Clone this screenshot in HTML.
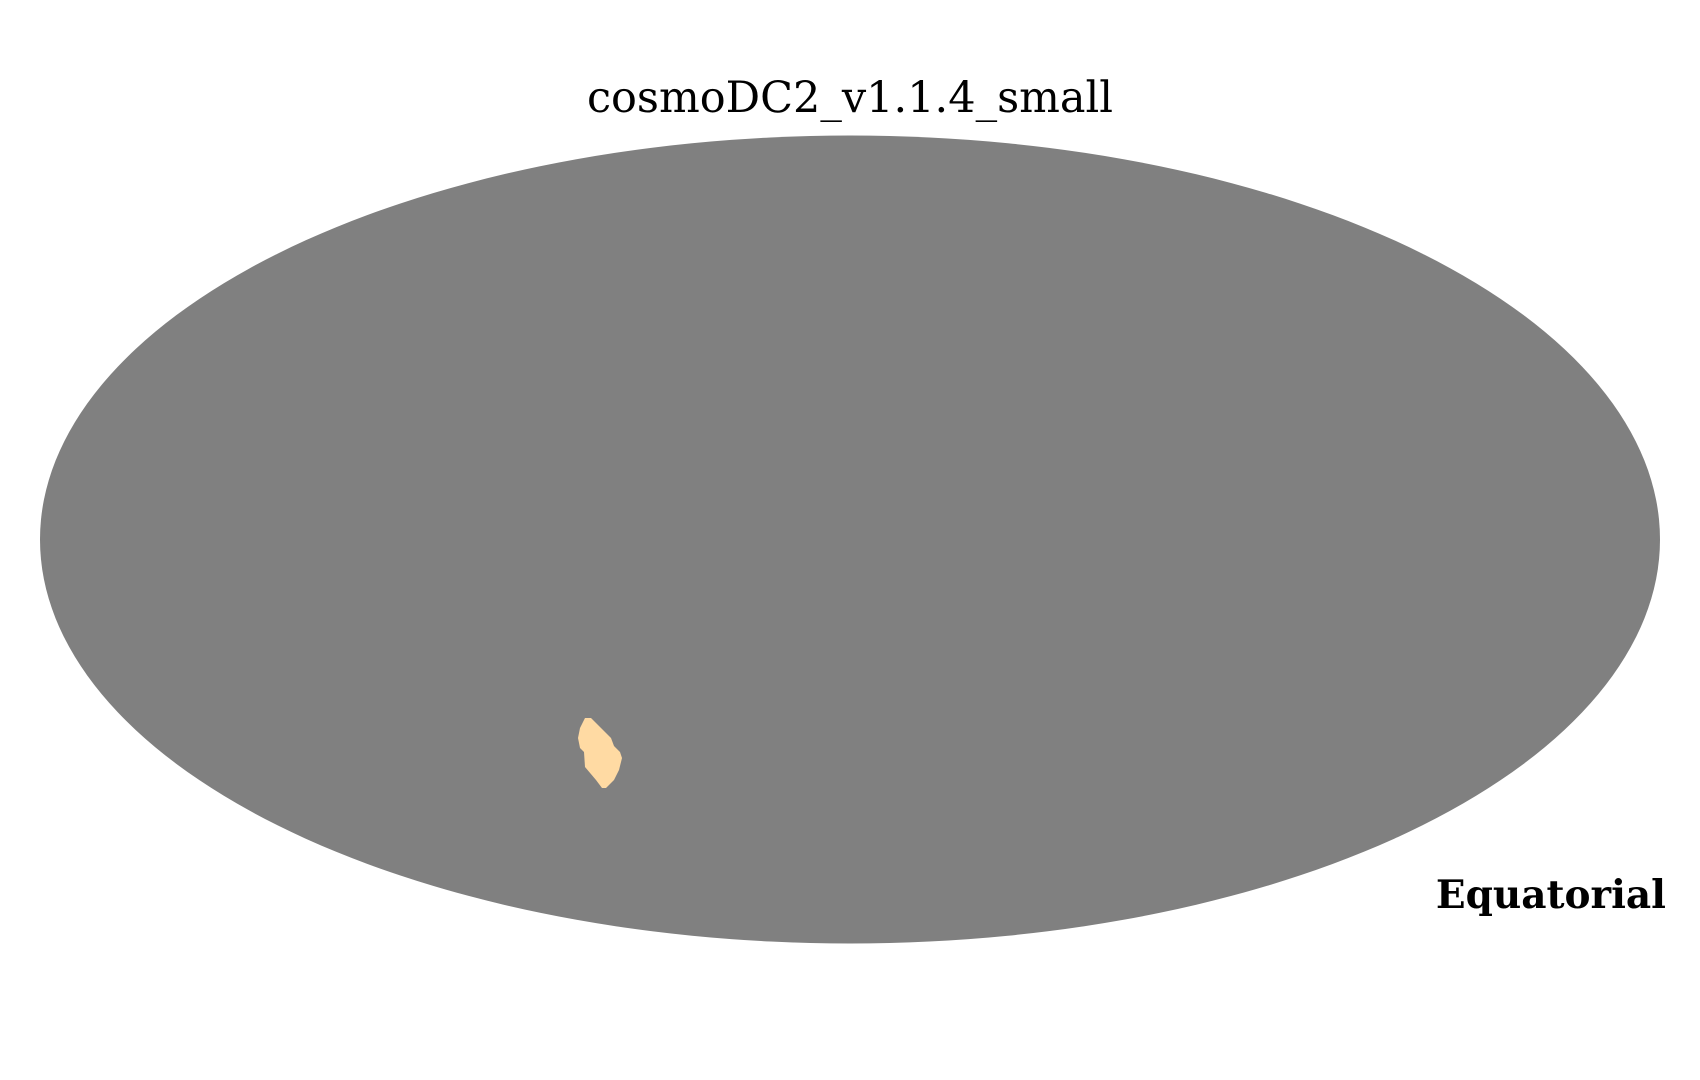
<!DOCTYPE html>
<html><head><meta charset="utf-8"><style>
body{margin:0;width:1700px;height:1080px;background:#fff;overflow:hidden}
svg{display:block}
</style></head><body>
<svg width="1700" height="1080">
<text x="850" y="112" text-anchor="middle" font-family="'DejaVu Serif','Liberation Serif',serif" font-size="43" fill="#000">cosmoDC2_v1.1.4_small</text>
<ellipse cx="850" cy="539.5" rx="810" ry="404" fill="#808080"/>
<polygon id="patch" fill="#ffdaa3"/>
<text x="1666" y="908" text-anchor="end" font-family="'DejaVu Serif','Liberation Serif',serif" font-weight="bold" font-size="39" fill="#000">Equatorial</text>
</svg>
<script>
const patchX=[585,591,600,611,614,620,622,619,614,606,602,596,585,584,580,578,580,583];
const patchY=[718,718,727,738,746,752,758,770,780,788,788,780,767,752,748,738,728,722];
document.getElementById('patch').setAttribute('points',patchX.map((x,i)=>x+','+patchY[i]).join(' '));
</script>
</body></html>
